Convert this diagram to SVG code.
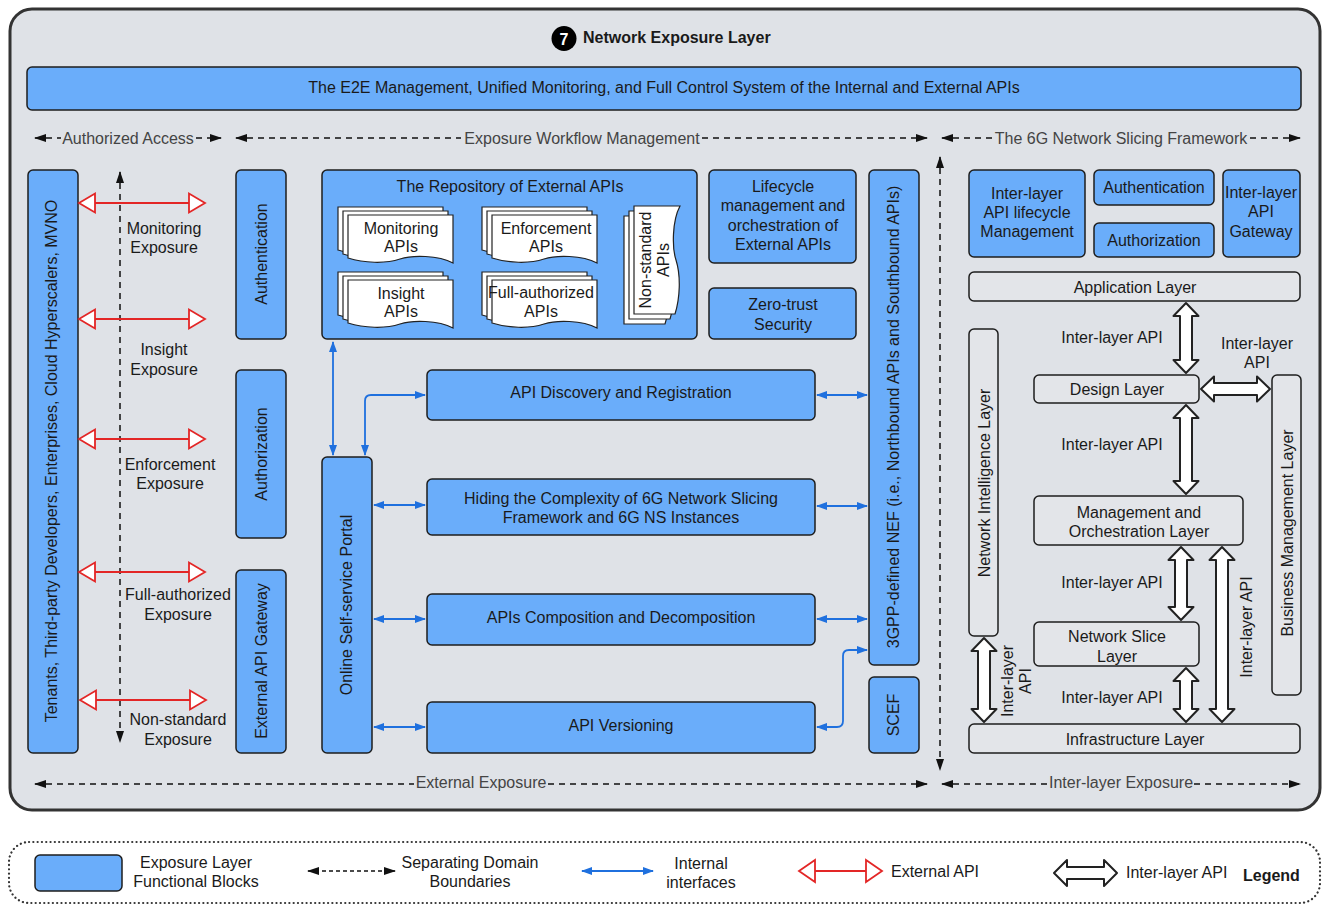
<svg xmlns="http://www.w3.org/2000/svg" xmlns:xlink="http://www.w3.org/1999/xlink" width="1325" height="905" viewBox="0 0 1325 905">
  <style>
    .t{font-family:"Liberation Sans",Arial,sans-serif;font-size:16px;fill:#1a1a1a;text-anchor:middle;dominant-baseline:central}
    .s{text-anchor:start}
    .b{font-weight:bold}
    .dl{fill:#444}
    .blk{fill:#6aadfa;stroke:#1e1e1e;stroke-width:1.5}
    .lay{fill:#e3e5e9;stroke:#1e1e1e;stroke-width:1.5}
    .dash{stroke:#111;stroke-width:1.5;stroke-dasharray:6 5;fill:none}
    .int{stroke:#1f70de;stroke-width:1.8;fill:none}
    .ext{stroke:#e32626;stroke-width:1.8;fill:none}
    .exth{fill:#fff;stroke:#e32626;stroke-width:1.8;stroke-linejoin:miter}
    .dbl{fill:#fff;stroke:#222;stroke-width:2;stroke-linejoin:round}
    .doc{fill:#fff;stroke:#222;stroke-width:1.2}
  </style>
  <defs>
    <marker id="ah" viewBox="0 0 12 8" refX="11" refY="4" markerWidth="12" markerHeight="8" markerUnits="userSpaceOnUse" orient="auto-start-reverse">
      <path d="M0,0 L12,4 L0,8 z" fill="#111"/>
    </marker>
    <marker id="bh" viewBox="0 0 11 8" refX="10" refY="4" markerWidth="11" markerHeight="8" markerUnits="userSpaceOnUse" orient="auto-start-reverse">
      <path d="M0,0 L11,4 L0,8 z" fill="#1f70de"/>
    </marker>
    <!-- single page with wavy lower edge -->
    <path id="pg" class="doc" d="M0,0 H105 V48 C90,40 64,40 52,44 C37,49 16,48 0,43 Z"/>
    <path id="pgv" class="doc" d="M0,0 H108 V46 C93,38 66,38 54,42 C38,47 16,46 0,41 Z"/>
    <g id="stack">
      <use xlink:href="#pg" x="-10" y="-8"/>
      <use xlink:href="#pg" x="-5" y="-4"/>
      <use xlink:href="#pg"/>
    </g>
    <!-- external API double arrow, 128 px long -->
    <g id="xa">
      <line class="ext" x1="17" y1="0" x2="111" y2="0"/>
      <polygon class="exth" points="1,0 17,-9.5 17,9.5"/>
      <polygon class="exth" points="127,0 111,-9.5 111,9.5"/>
    </g>
  </defs>

  <!-- layer container -->
  <rect x="10" y="9" width="1310" height="801" rx="22" fill="#dfe2e7" stroke="#333" stroke-width="3"/>

  <g id="title">
    <circle cx="564" cy="38.5" r="12.5" fill="#000"/>
    <text class="t b" x="564" y="39" style="fill:#fff">7</text>
    <text class="t s b" x="583" y="37">Network Exposure Layer</text>
  </g>

  <g id="e2e-bar">
    <rect class="blk" x="27" y="67" width="1274" height="43" rx="5"/>
    <text class="t" x="664" y="87">The E2E Management, Unified Monitoring, and Full Control System of the Internal and External APIs</text>
  </g>

  <!-- domain boundaries -->
  <g id="boundaries">
    <path class="dash" d="M35,138 H61" marker-start="url(#ah)"/>
    <path class="dash" d="M196,138 H221" marker-end="url(#ah)"/>
    <text class="t dl" x="128" y="138">Authorized Access</text>

    <path class="dash" d="M236,138 H461" marker-start="url(#ah)"/>
    <path class="dash" d="M702,138 H927" marker-end="url(#ah)"/>
    <text class="t dl" x="582" y="138">Exposure Workflow Management</text>

    <path class="dash" d="M942,138 H993" marker-start="url(#ah)"/>
    <path class="dash" d="M1250,138 H1300" marker-end="url(#ah)"/>
    <text class="t dl" x="1121" y="138">The 6G Network Slicing Framework</text>

    <path class="dash" d="M35,784 H414" marker-start="url(#ah)"/>
    <path class="dash" d="M548,784 H927" marker-end="url(#ah)"/>
    <text class="t dl" x="481" y="782">External Exposure</text>

    <path class="dash" d="M942,784 H1048" marker-start="url(#ah)"/>
    <path class="dash" d="M1194,784 H1300" marker-end="url(#ah)"/>
    <text class="t dl" x="1121" y="782">Inter-layer Exposure</text>

    <path class="dash" d="M940,157 V770" marker-start="url(#ah)" marker-end="url(#ah)"/>
    <path class="dash" d="M120,172 V742" marker-start="url(#ah)" marker-end="url(#ah)"/>
  </g>

  <!-- consumers -->
  <g id="tenants">
    <rect class="blk" x="28" y="170" width="50" height="583" rx="5"/>
    <text class="t" transform="translate(51,461) rotate(-90)">Tenants,  Third-party Developers, Enterprises, Cloud Hyperscalers, MVNO</text>
  </g>

  <g id="exposure-types">
    <use xlink:href="#xa" x="78" y="203"/>
    <use xlink:href="#xa" x="78" y="319"/>
    <use xlink:href="#xa" x="78" y="439"/>
    <use xlink:href="#xa" x="78" y="572"/>
    <use xlink:href="#xa" x="79" y="700"/>
    <text class="t" x="164" y="228">Monitoring</text>
    <text class="t" x="164" y="247">Exposure</text>
    <text class="t" x="164" y="349">Insight</text>
    <text class="t" x="164" y="369">Exposure</text>
    <text class="t" x="170" y="464">Enforcement</text>
    <text class="t" x="170" y="483">Exposure</text>
    <text class="t" x="178" y="594">Full-authorized</text>
    <text class="t" x="178" y="614">Exposure</text>
    <text class="t" x="178" y="719">Non-standard</text>
    <text class="t" x="178" y="739">Exposure</text>
  </g>

  <g id="authentication">
    <rect class="blk" x="236" y="170" width="50" height="169" rx="5"/>
    <text class="t" transform="translate(261,254) rotate(-90)">Authentication</text>
  </g>
  <g id="authorization">
    <rect class="blk" x="236" y="370" width="50" height="168" rx="5"/>
    <text class="t" transform="translate(261,454) rotate(-90)">Authorization</text>
  </g>
  <g id="external-gateway">
    <rect class="blk" x="236" y="570" width="50" height="183" rx="5"/>
    <text class="t" transform="translate(261,661) rotate(-90)">External API Gateway</text>
  </g>

  <g id="repository">
    <rect class="blk" x="322" y="170" width="375" height="169" rx="5"/>
    <text class="t" x="510" y="186">The Repository of External APIs</text>
    <use xlink:href="#stack" x="348" y="215"/>
    <text class="t" x="401" y="228">Monitoring</text>
    <text class="t" x="401" y="246">APIs</text>
    <use xlink:href="#stack" x="492" y="215"/>
    <text class="t" x="546" y="228">Enforcement</text>
    <text class="t" x="546" y="246">APIs</text>
    <use xlink:href="#stack" x="348" y="280"/>
    <text class="t" x="401" y="293">Insight</text>
    <text class="t" x="401" y="311">APIs</text>
    <use xlink:href="#stack" x="492" y="280"/>
    <text class="t" x="541" y="292">Full-authorized</text>
    <text class="t" x="541" y="311">APIs</text>
    <use xlink:href="#pgv" transform="translate(624,324) rotate(-90)"/>
    <use xlink:href="#pgv" transform="translate(629,319) rotate(-90)"/>
    <use xlink:href="#pgv" transform="translate(634,314) rotate(-90)"/>
    <text class="t" transform="translate(645,260) rotate(-90)">Non-standard</text>
    <text class="t" transform="translate(663,260) rotate(-90)">APIs</text>
  </g>

  <g id="lifecycle">
    <rect class="blk" x="709" y="170" width="147" height="93" rx="5"/>
    <text class="t" x="783" y="186">Lifecycle</text>
    <text class="t" x="783" y="205">management and</text>
    <text class="t" x="783" y="225">orchestration of</text>
    <text class="t" x="783" y="244">External APIs</text>
  </g>
  <g id="zero-trust">
    <rect class="blk" x="709" y="288" width="147" height="51" rx="5"/>
    <text class="t" x="783" y="304">Zero-trust</text>
    <text class="t" x="783" y="324">Security</text>
  </g>

  <g id="nef">
    <rect class="blk" x="869" y="170" width="50" height="495" rx="5"/>
    <text class="t" transform="translate(893,417) rotate(-90)">3GPP-defined NEF (i.e., Northbound APIs and Southbound APIs)</text>
  </g>
  <g id="scef">
    <rect class="blk" x="869" y="677" width="50" height="76" rx="5"/>
    <text class="t" transform="translate(893,715) rotate(-90)">SCEF</text>
  </g>

  <g id="portal">
    <rect class="blk" x="322" y="457" width="50" height="296" rx="5"/>
    <text class="t" transform="translate(346,605) rotate(-90)">Online Self-service Portal</text>
  </g>

  <g id="discovery">
    <rect class="blk" x="427" y="370" width="388" height="50" rx="5"/>
    <text class="t" x="621" y="392">API Discovery and Registration</text>
  </g>
  <g id="hiding">
    <rect class="blk" x="427" y="479" width="388" height="56" rx="5"/>
    <text class="t" x="621" y="498">Hiding the Complexity of 6G Network Slicing</text>
    <text class="t" x="621" y="517">Framework and 6G NS Instances</text>
  </g>
  <g id="composition">
    <rect class="blk" x="427" y="594" width="388" height="51" rx="5"/>
    <text class="t" x="621" y="617">APIs Composition and Decomposition</text>
  </g>
  <g id="versioning">
    <rect class="blk" x="427" y="702" width="388" height="51" rx="5"/>
    <text class="t" x="621" y="725">API Versioning</text>
  </g>

  <!-- slicing framework blocks -->
  <g id="il-lifecycle">
    <rect class="blk" x="969" y="170" width="116" height="87" rx="5"/>
    <text class="t" x="1027" y="193">Inter-layer</text>
    <text class="t" x="1027" y="212">API lifecycle</text>
    <text class="t" x="1027" y="231">Management</text>
  </g>
  <g id="il-authentication">
    <rect class="blk" x="1094" y="170" width="120" height="35" rx="5"/>
    <text class="t" x="1154" y="187">Authentication</text>
  </g>
  <g id="il-authorization">
    <rect class="blk" x="1094" y="223" width="120" height="34" rx="5"/>
    <text class="t" x="1154" y="240">Authorization</text>
  </g>
  <g id="il-gateway">
    <rect class="blk" x="1223" y="170" width="77" height="87" rx="5"/>
    <text class="t" x="1261" y="192">Inter-layer</text>
    <text class="t" x="1261" y="211">API</text>
    <text class="t" x="1261" y="231">Gateway</text>
  </g>

  <g id="application-layer">
    <rect class="lay" x="969" y="272" width="331" height="29" rx="5"/>
    <text class="t" x="1135" y="287">Application Layer</text>
  </g>
  <g id="intelligence-layer">
    <rect class="lay" x="969" y="329" width="29" height="307" rx="5"/>
    <text class="t" transform="translate(984,483) rotate(-90)">Network Intelligence Layer</text>
  </g>
  <g id="design-layer">
    <rect class="lay" x="1034" y="375" width="165" height="28" rx="5"/>
    <text class="t" x="1117" y="389">Design Layer</text>
  </g>
  <g id="business-layer">
    <rect class="lay" x="1272" y="375" width="29" height="320" rx="5"/>
    <text class="t" transform="translate(1287,533) rotate(-90)">Business Management Layer</text>
  </g>
  <g id="mo-layer">
    <rect class="lay" x="1034" y="496" width="209" height="49" rx="5"/>
    <text class="t" x="1139" y="512">Management and</text>
    <text class="t" x="1139" y="531">Orchestration Layer</text>
  </g>
  <g id="slice-layer">
    <rect class="lay" x="1034" y="622" width="165" height="44" rx="5"/>
    <text class="t" x="1117" y="636">Network Slice</text>
    <text class="t" x="1117" y="656">Layer</text>
  </g>
  <g id="infrastructure-layer">
    <rect class="lay" x="969" y="724" width="331" height="29" rx="5"/>
    <text class="t" x="1135" y="739">Infrastructure Layer</text>
  </g>

  <!-- connectors -->
  <g id="connectors">
    <path class="int" d="M333,455 V342" marker-start="url(#bh)" marker-end="url(#bh)"/>
    <path class="int" d="M365,455 V401 Q365,395 371,395 H425" marker-start="url(#bh)" marker-end="url(#bh)"/>
    <path class="int" d="M374,505 H425" marker-start="url(#bh)" marker-end="url(#bh)"/>
    <path class="int" d="M374,619 H425" marker-start="url(#bh)" marker-end="url(#bh)"/>
    <path class="int" d="M374,727 H425" marker-start="url(#bh)" marker-end="url(#bh)"/>
    <path class="int" d="M817,395 H867" marker-start="url(#bh)" marker-end="url(#bh)"/>
    <path class="int" d="M817,506 H867" marker-start="url(#bh)" marker-end="url(#bh)"/>
    <path class="int" d="M817,619 H867" marker-start="url(#bh)" marker-end="url(#bh)"/>
    <path class="int" d="M817,727 H837 Q843,727 843,721 V656 Q843,650 849,650 H867" marker-start="url(#bh)" marker-end="url(#bh)"/>

    <polygon class="dbl" points="1186,303 1198.5,316 1192,316 1192,360 1198.5,360 1186,373 1173.5,360 1180,360 1180,316 1173.5,316"/>
    <polygon class="dbl" points="1186,405 1198.5,418 1192,418 1192,481 1198.5,481 1186,494 1173.5,481 1180,481 1180,418 1173.5,418"/>
    <polygon class="dbl" points="1181,547 1193.5,560 1187,560 1187,607 1193.5,607 1181,620 1168.5,607 1175,607 1175,560 1168.5,560"/>
    <polygon class="dbl" points="1222,547 1234.5,560 1228,560 1228,709 1234.5,709 1222,722 1209.5,709 1216,709 1216,560 1209.5,560"/>
    <polygon class="dbl" points="1186,668 1198.5,681 1192,681 1192,709 1198.5,709 1186,722 1173.5,709 1180,709 1180,681 1173.5,681"/>
    <polygon class="dbl" points="984,638 996.5,651 990,651 990,709 996.5,709 984,722 971.5,709 978,709 978,651 971.5,651"/>
    <polygon class="dbl" points="1201,389 1214,376.5 1214,383 1257,383 1257,376.5 1270,389 1257,401.5 1257,395 1214,395 1214,401.5"/>

    <text class="t" x="1112" y="337">Inter-layer API</text>
    <text class="t" x="1257" y="343">Inter-layer</text>
    <text class="t" x="1257" y="362">API</text>
    <text class="t" x="1112" y="444">Inter-layer API</text>
    <text class="t" x="1112" y="582">Inter-layer API</text>
    <text class="t" x="1112" y="697">Inter-layer API</text>
    <text class="t" transform="translate(1246,627) rotate(-90)">Inter-layer API</text>
    <text class="t" transform="translate(1007,681) rotate(-90)">Inter-layer</text>
    <text class="t" transform="translate(1025,681) rotate(-90)">API</text>
  </g>

  <!-- legend -->
  <g id="legend">
    <rect x="9" y="842" width="1311" height="61" rx="20" fill="#fff" stroke="#333" stroke-width="2.2" stroke-dasharray="0.1 4.2" stroke-linecap="round"/>
    <rect class="blk" x="35" y="855" width="87" height="36" rx="5"/>
    <text class="t" x="196" y="862">Exposure Layer</text>
    <text class="t" x="196" y="881">Functional Blocks</text>
    <path class="dash" d="M308,871 H395" style="stroke-dasharray:4 3" marker-start="url(#ah)" marker-end="url(#ah)"/>
    <text class="t" x="470" y="862">Separating Domain</text>
    <text class="t" x="470" y="881">Boundaries</text>
    <path class="int" d="M582,871 H653" marker-start="url(#bh)" marker-end="url(#bh)"/>
    <text class="t" x="701" y="863">Internal</text>
    <text class="t" x="701" y="882">interfaces</text>
    <line class="ext" x1="815" y1="871" x2="866" y2="871"/>
    <polygon class="exth" points="799,871 815,860 815,882"/>
    <polygon class="exth" points="882,871 866,860 866,882"/>
    <text class="t s" x="891" y="871">External API</text>
    <polygon class="dbl" points="1054,873 1067,860 1067,867 1104,867 1104,860 1117,873 1104,886 1104,879 1067,879 1067,886"/>
    <text class="t s" x="1126" y="872">Inter-layer API</text>
    <text class="t s b" x="1243" y="875">Legend</text>
  </g>
</svg>
